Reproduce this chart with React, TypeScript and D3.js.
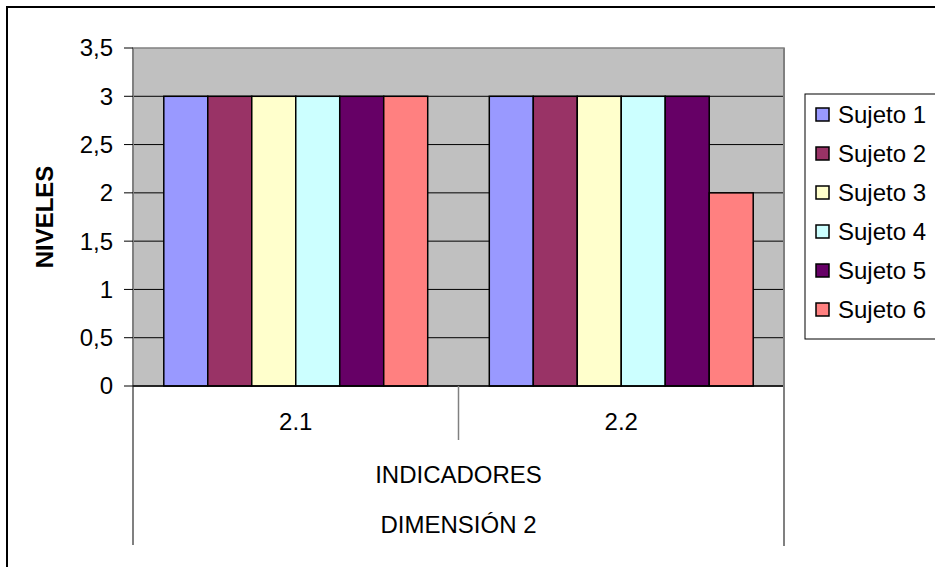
import React from "react";
import * as d3 from "d3";

const categories = ["2.1", "2.2"];
const seriesNames = ["Sujeto 1", "Sujeto 2", "Sujeto 3", "Sujeto 4", "Sujeto 5", "Sujeto 6"];
const seriesColors = ["#9999FF", "#993366", "#FFFFCC", "#CCFFFF", "#660066", "#FF8080"];
const sujeto1 = [3, 3];
const sujeto2 = [3, 3];
const sujeto3 = [3, 3];
const sujeto4 = [3, 3];
const sujeto5 = [3, 3];
const sujeto6 = [3, 2];
const seriesValues = [sujeto1, sujeto2, sujeto3, sujeto4, sujeto5, sujeto6];
const yTicks = [0, 0.5, 1, 1.5, 2, 2.5, 3, 3.5];
const yAxisTitle = "NIVELES";
const xTitle1 = "INDICADORES";
const xTitle2 = "DIMENSIÓN 2";

const W = 935;
const H = 567;
const plot = { left: 133, right: 784, top: 48, bottom: 386 };
const font = "Arial, 'Liberation Sans', sans-serif";

export default function App() {
  const x0 = d3.scaleBand<string>().domain(categories).range([plot.left, plot.right]).padding(0);
  const x1 = d3
    .scaleBand<string>()
    .domain(seriesNames)
    .range([0, x0.bandwidth()])
    .paddingInner(0)
    .paddingOuter(0.7);
  const y = d3.scaleLinear().domain([0, 3.5]).range([plot.bottom, plot.top]);
  const fmt = (v: number) => String(v).replace(".", ",");
  const midX = (plot.left + plot.right) / 2;

  return (
    <svg
      width={W}
      height={H}
      style={{ position: "fixed", left: 0, top: 0, background: "#fff" }}
      fontFamily={font}
    >
      <rect x={0} y={0} width={W} height={H} fill="#fff" />
      {/* outer chart border */}
      <rect x={7} y={7} width={W + 20} height={H + 20} fill="none" stroke="#000" strokeWidth={2} />

      {/* plot area */}
      <rect
        x={plot.left}
        y={plot.top}
        width={plot.right - plot.left}
        height={plot.bottom - plot.top}
        fill="#C0C0C0"
        stroke="#808080"
        strokeWidth={1.5}
      />
      {yTicks
        .filter((t) => t > 0 && t < 3.5)
        .map((t) => (
          <line key={t} x1={plot.left} x2={plot.right} y1={y(t)} y2={y(t)} stroke="#000" strokeWidth={1} />
        ))}

      {/* bars */}
      {categories.map((c, ci) =>
        seriesNames.map((s, si) => (
          <rect
            key={c + s}
            x={(x0(c) as number) + (x1(s) as number)}
            y={y(seriesValues[si][ci])}
            width={x1.bandwidth()}
            height={y(0) - y(seriesValues[si][ci])}
            fill={seriesColors[si]}
            stroke="#000"
            strokeWidth={1.5}
          />
        ))
      )}

      {/* y axis */}
      <line x1={plot.left} x2={plot.left} y1={plot.top} y2={545} stroke="#808080" strokeWidth={2} />
      {yTicks.map((t) => (
        <g key={t}>
          <line x1={plot.left - 9} x2={plot.left} y1={y(t)} y2={y(t)} stroke="#000" strokeWidth={1} />
          <text x={113} y={y(t)} dy="0.35em" textAnchor="end" fontSize={24} fill="#000">
            {fmt(t)}
          </text>
        </g>
      ))}
      <text
        transform={`translate(45, ${(plot.top + plot.bottom) / 2}) rotate(-90)`}
        textAnchor="middle"
        dy="0.35em"
        fontSize={24}
        fontWeight="bold"
        fill="#000"
      >
        {yAxisTitle}
      </text>

      {/* x axis */}
      <line x1={plot.left} x2={plot.right} y1={plot.bottom} y2={plot.bottom} stroke="#000" strokeWidth={1.5} />
      <line x1={plot.right} x2={plot.right} y1={plot.top} y2={546} stroke="#808080" strokeWidth={2} />
      <line x1={midX} x2={midX} y1={plot.bottom} y2={440} stroke="#808080" strokeWidth={1.5} />
      {categories.map((c) => (
        <text
          key={c}
          x={(x0(c) as number) + x0.bandwidth() / 2}
          y={422}
          dy="0.35em"
          textAnchor="middle"
          fontSize={24}
          fill="#000"
        >
          {c}
        </text>
      ))}
      <text x={midX} y={475} dy="0.35em" textAnchor="middle" fontSize={24} fill="#000">
        {xTitle1}
      </text>
      <text x={midX} y={525} dy="0.35em" textAnchor="middle" fontSize={24} fill="#000">
        {xTitle2}
      </text>

      {/* legend */}
      <rect x={805} y={94} width={150} height={245} fill="#fff" stroke="#000" strokeWidth={1} />
      {seriesNames.map((s, i) => {
        const cy = 115 + i * 39;
        return (
          <g key={s}>
            <rect x={816} y={cy - 7} width={13} height={13} fill={seriesColors[i]} stroke="#000" strokeWidth={1.5} />
            <text x={838} y={cy} dy="0.35em" fontSize={24} fill="#000">
              {s}
            </text>
          </g>
        );
      })}
    </svg>
  );
}
